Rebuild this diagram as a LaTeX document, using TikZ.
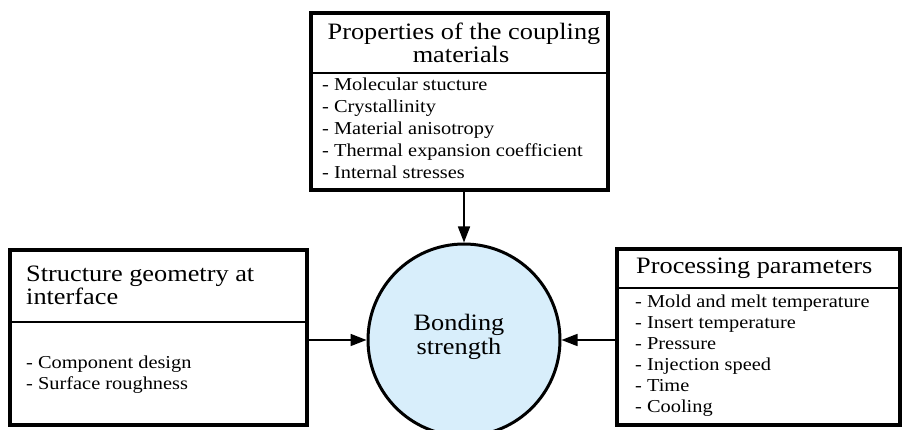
\documentclass[tikz,border=0pt]{standalone}
\usepackage{fontspec}
\setmainfont{Liberation Serif}[FakeStretch=1.12]
\usetikzlibrary{arrows.meta}
\definecolor{circfill}{HTML}{D8EEFB}
\newcommand\titlefont{\fontsize{23.5}{28}\selectfont}
\newcommand\bodyfont{\fontsize{18.2}{21}\selectfont}
\begin{document}
\begin{tikzpicture}[x=1pt,y=-1pt,
  box/.style={draw, line width=3.2pt, rectangle, inner sep=0pt},
  divline/.style={line width=1.5pt},
  ttl/.style={font=\titlefont, inner sep=0pt},
  bdy/.style={font=\bodyfont, inner sep=0pt, anchor=base west},
  conn/.style={line width=1.7pt, -{Triangle[length=16pt,width=12pt]}}]
\useasboundingbox (0,0) rectangle (903,430);
% boxes
\node[box, minimum width=297pt, minimum height=177pt] (topbox) at (459.5,101.5) {};
\node[box, minimum width=297pt, minimum height=175pt] (leftbox) at (158.5,337.5) {};
\node[box, minimum width=283pt, minimum height=176pt] (rightbox) at (758.5,337) {};
% dividers
\draw[divline] (topbox.west |- 0,73) -- (topbox.east |- 0,73);
\draw[divline] (leftbox.west |- 0,322) -- (leftbox.east |- 0,322);
\draw[divline] (rightbox.west |- 0,288) -- (rightbox.east |- 0,288);
% circle
\node[circle, draw, line width=3pt, fill=circfill, minimum size=192pt, inner sep=0pt] (bond) at (464,340) {};
\node[ttl, anchor=base] (b1) at (459,331) {Bonding};
\node[ttl, anchor=base] (b2) at (459,355) {strength};
% top texts
\node[ttl, anchor=base] (tt1) at (464,40) {Properties of the coupling};
\node[ttl, anchor=base] (tt2) at (461,63) {materials};
\node[bdy] (tb1) at (322,91) {- Molecular stucture};
\node[bdy] (tb2) at (322,113) {- Crystallinity};
\node[bdy] (tb3) at (322,135) {- Material anisotropy};
\node[bdy] (tb4) at (322,157) {- Thermal expansion coefficient};
\node[bdy] (tb5) at (322,179) {- Internal stresses};
% left texts
\node[ttl, anchor=base west] (lt1) at (26,282) {Structure geometry at};
\node[ttl, anchor=base west] (lt2) at (26,305) {interface};
\node[bdy] (lb1) at (26,369) {- Component design};
\node[bdy] (lb2) at (26,390) {- Surface roughness};
% right texts
\node[ttl, anchor=base west] (rt1) at (636,274) {Processing parameters};
\node[bdy] (rb1) at (635,308) {- Mold and melt temperature};
\node[bdy] (rb2) at (635,329) {- Insert temperature};
\node[bdy] (rb3) at (635,350) {- Pressure};
\node[bdy] (rb4) at (635,371) {- Injection speed};
\node[bdy] (rb5) at (635,392) {- Time};
\node[bdy] (rb6) at (635,413) {- Cooling};
% connectors
\draw[conn] (topbox.south -| bond.north) -- (bond.north);
\draw[conn] (leftbox.east |- bond.west) -- (bond.west);
\draw[conn] (rightbox.west |- bond.east) -- (bond.east);
\end{tikzpicture}
\end{document}
